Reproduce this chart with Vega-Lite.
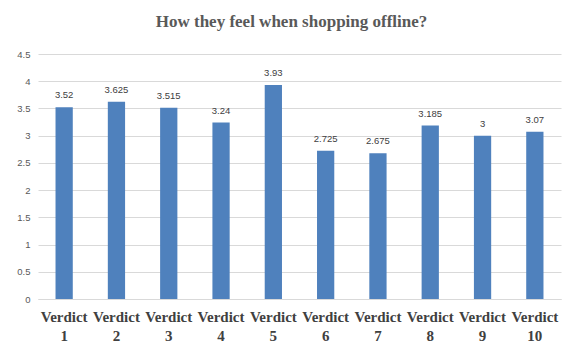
{
  "$schema": "https://vega.github.io/schema/vega-lite/v6.json",
  "width": 523,
  "height": 245,
  "autosize": {"type": "none"},
  "padding": {"left": 38, "top": 54, "right": 9, "bottom": 50},
  "background": "white",
  "title": {
    "text": "How they feel when shopping  offline?",
    "font": "Liberation Serif",
    "fontSize": 17,
    "fontWeight": "bold",
    "color": "#595959",
    "anchor": "middle",
    "offset": 18,
    "dx": -8
  },
  "data": {
    "values": [
      {"verdict": "Verdict 1", "score": 3.52, "label": "3.52"},
      {"verdict": "Verdict 2", "score": 3.625, "label": "3.625"},
      {"verdict": "Verdict 3", "score": 3.515, "label": "3.515"},
      {"verdict": "Verdict 4", "score": 3.24, "label": "3.24"},
      {"verdict": "Verdict 5", "score": 3.93, "label": "3.93"},
      {"verdict": "Verdict 6", "score": 2.725, "label": "2.725"},
      {"verdict": "Verdict 7", "score": 2.675, "label": "2.675"},
      {"verdict": "Verdict 8", "score": 3.185, "label": "3.185"},
      {"verdict": "Verdict 9", "score": 3, "label": "3"},
      {"verdict": "Verdict 10", "score": 3.07, "label": "3.07"}
    ]
  },
  "encoding": {
    "x": {
      "field": "verdict",
      "type": "nominal",
      "sort": null,
      "scale": {"paddingInner": 0.67, "paddingOuter": 0.335},
      "axis": {
        "title": null,
        "labelAngle": 0,
        "ticks": false,
        "domain": true,
        "domainColor": "#D9D9D9",
        "labelExpr": "['Verdict', split(datum.label, ' ')[1]]",
        "labelFont": "Liberation Serif",
        "labelFontSize": 15,
        "labelFontWeight": "bold",
        "labelColor": "#404040",
        "labelLineHeight": 19,
        "labelPadding": 10,
        "labelOverlap": false,
        "labelBound": false
      }
    },
    "y": {
      "field": "score",
      "type": "quantitative",
      "scale": {"domain": [0, 4.5]},
      "axis": {
        "title": null,
        "values": [0, 0.5, 1, 1.5, 2, 2.5, 3, 3.5, 4, 4.5],
        "format": "~g",
        "domain": false,
        "ticks": false,
        "grid": true,
        "gridColor": "#D9D9D9",
        "labelFont": "Liberation Sans",
        "labelFontSize": 9.5,
        "labelColor": "#595959",
        "labelPadding": 8
      }
    }
  },
  "layer": [
    {"mark": {"type": "bar", "color": "#4F81BD"}},
    {
      "mark": {"type": "text", "baseline": "bottom", "dy": -7, "font": "Liberation Sans", "fontSize": 9.5, "color": "#404040"},
      "encoding": {"text": {"field": "label"}}
    }
  ],
  "config": {"view": {"stroke": null}}
}
